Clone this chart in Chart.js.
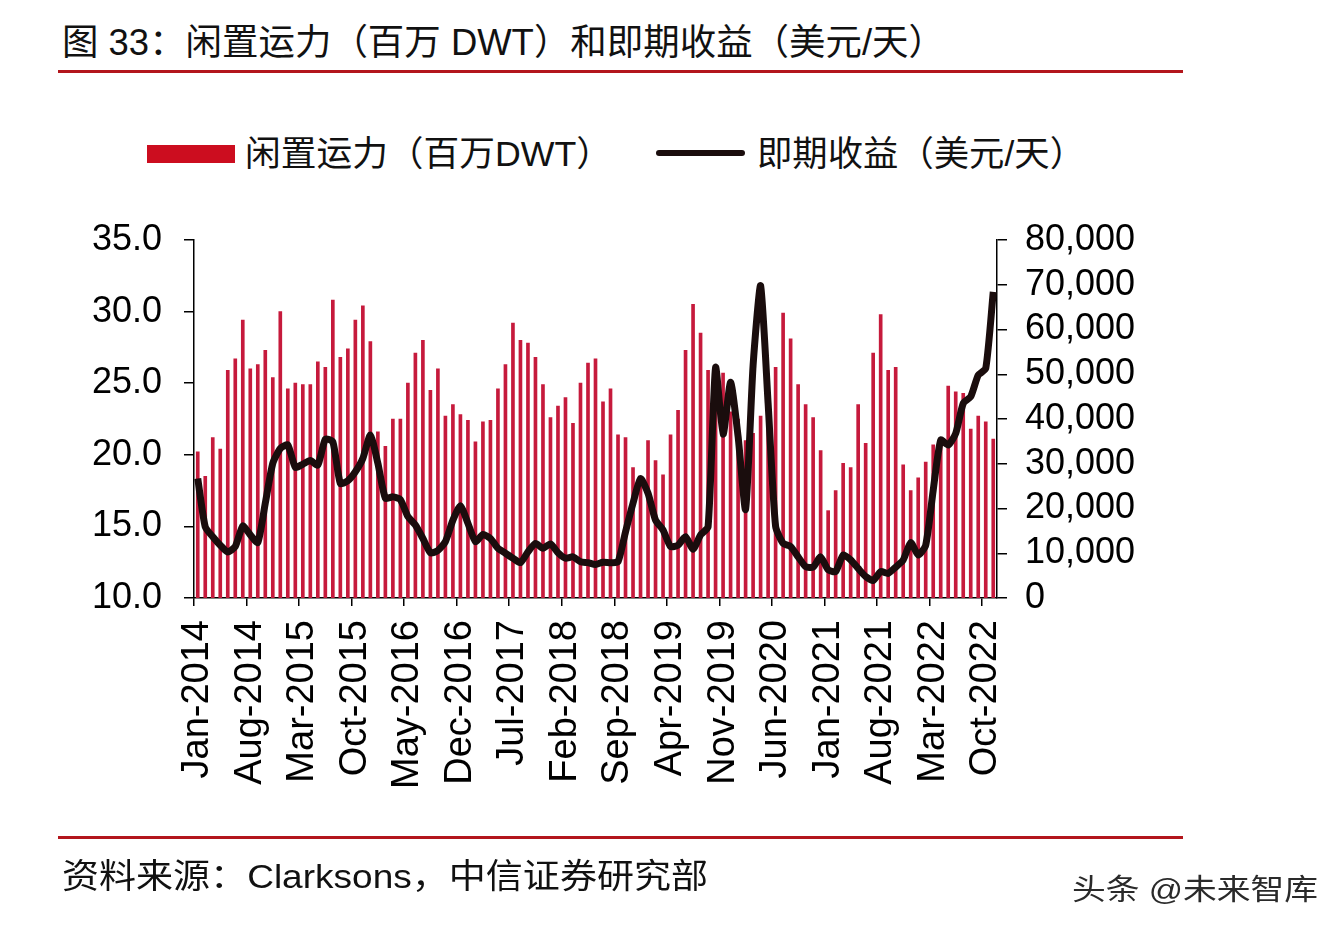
<!DOCTYPE html>
<html>
<head>
<meta charset="utf-8">
<script src="https://cdn.jsdelivr.net/npm/chart.js@4/dist/chart.umd.min.js"></script>
<style>
  html, body { margin: 0; padding: 0; background: #fff; }
  body { width: 1344px; height: 936px; position: relative; overflow: hidden;
         font-family: 'Liberation Sans', 'Noto Sans CJK SC', sans-serif; color: #111; }
  .txt { position: absolute; white-space: nowrap; line-height: 1; transform-origin: left center; }
  .rule { position: absolute; left: 58px; width: 1125px; height: 3px; background: #b3161c; }
  #wrap { position: absolute; left: 0; top: 0; width: 1344px; height: 936px; }
</style>
</head>
<body>
<div class="txt" data-fit="883" style="left:62px; top:25px; font-size:36px;">图 33：闲置运力（百万 DWT）和即期收益（美元/天）</div>
<div class="rule" style="top:70px;"></div>

<div style="position:absolute; left:147px; top:145px; width:88px; height:18px; background:#cc0d1f;"></div>
<div class="txt" data-fit="367" style="left:245px; top:136px; font-size:35px;">闲置运力（百万DWT）</div>
<div style="position:absolute; left:656px; top:150px; width:89px; height:6px; background:#1a0d0d; border-radius:3px;"></div>
<div class="txt" data-fit="328" style="left:757px; top:136px; font-size:35px;">即期收益（美元/天）</div>

<div id="wrap"><canvas id="chart" width="1344" height="936"></canvas></div>

<div class="rule" style="top:836px;"></div>
<div class="txt" data-fit="646" style="left:62px; top:859px; font-size:34px;">资料来源：Clarksons，中信证券研究部</div>
<div class="txt" data-fit="246" style="left:1072px; top:876px; font-size:29px; color:#2a2a2a;">头条 @未来智库</div>

<script>
// --- data ---
const MONTHS = ["Jan","Feb","Mar","Apr","May","Jun","Jul","Aug","Sep","Oct","Nov","Dec"];
const START_YEAR = 2014;
const N_MONTHS = 107; // Jan-2014 .. Nov-2022
const LABEL_EVERY = 7;

// idle capacity, million DWT (left axis)
const idleDwt = [
  20.2, 18.5, 21.2, 20.4, 25.9, 26.7, 29.4, 26.0, 26.3, 27.3, 25.4, 30.0,
  24.6, 25.0, 24.9, 24.9, 26.5, 26.1, 30.8, 26.8, 27.4, 29.4, 30.4, 27.9,
  21.6, 20.6, 22.5, 22.5, 25.0, 27.1, 28.0, 24.5, 26.0, 22.7, 23.5, 22.8,
  22.4, 20.9, 22.3, 22.4, 24.6, 26.3, 29.2, 28.0, 27.8, 26.8, 24.9, 22.6,
  23.4, 24.0, 22.2, 25.0, 26.4, 26.7, 23.7, 24.6, 21.4, 21.2, 19.1, 18.2,
  21.0, 19.6, 18.6, 21.4, 23.1, 27.3, 30.5, 28.5, 25.9, 25.8, 25.7, 23.0,
  22.5, 21.0, 21.5, 22.7, 23.5, 26.1, 29.9, 28.1, 24.9, 23.5, 22.6, 20.3,
  16.1, 17.5, 19.4, 19.1, 23.5, 20.8, 27.1, 29.8, 25.9, 26.1, 19.3, 17.5,
  18.4, 19.5, 20.7, 21.0, 24.8, 24.4, 24.3, 21.8, 22.7, 22.3, 21.1
];

// spot earnings, USD/day (right axis)
const spotEarnings = [
  26700, 15900, 13700, 11800, 10300, 11500, 16100, 14100, 12400, 21200, 30100, 33400,
  34200, 29200, 29900, 30700, 29700, 35500, 34900, 25600, 26200, 28200, 31200, 36400,
  30100, 22300, 22600, 22000, 18200, 16300, 13300, 10100, 10600, 12600, 17400, 20600,
  16700, 12600, 14200, 13300, 11100, 10000,  8900,  7900, 10300, 12200, 11100, 12100,
  10100,  8900,  9200,  8100,  7900,  7500,  8000,  7900,  8100, 14800, 21200, 26700,
  23400, 17400, 15200, 11500, 11800, 13700, 10900, 14100, 15900, 51500, 36600, 48200,
  36100, 19800, 52000, 69800, 43500, 16000, 12200, 11500,  9200,  7000,  6900,  9200,
   6300,  5900,  9600,  8500,  6600,  4800,  3900,  5900,  5500,  6900,  8500, 12400,
   9600, 11800, 24100, 35300, 34200, 36800, 43500, 45000, 49800, 51300, 68400
];

const LEFT_MIN = 10, LEFT_MAX = 35, LEFT_STEP = 5;
const RIGHT_MIN = 0, RIGHT_MAX = 80000, RIGHT_STEP = 10000;

const monthLabels = [];
for (let i = 0; i < N_MONTHS; i++) {
  monthLabels.push(MONTHS[i % 12] + "-" + (START_YEAR + Math.floor(i / 12)));
}

// --- fit text widths ---
function fitTexts() {
  document.querySelectorAll("[data-fit]").forEach((el) => {
    const target = Number(el.dataset.fit);
    const w = el.getBoundingClientRect().width;
    if (w > 0) el.style.transform = "scaleX(" + (target / w).toFixed(4) + ")";
  });
}

// --- chart ---
const FAMILY = "'Liberation Sans', Arial, sans-serif";
const Y_FONT = { family: FAMILY, size: 36 };
const X_FONT = { family: FAMILY, size: 38 };

function initChart() {
  const ctx = document.getElementById("chart");
  new Chart(ctx, {
    data: {
      labels: monthLabels,
      datasets: [
        {
          type: "line",
          label: "即期收益（美元/天）",
          data: spotEarnings,
          yAxisID: "yRight",
          borderColor: "#1a0d0d",
          borderWidth: 7,
          pointRadius: 0,
          tension: 0.2,
          order: 0,
        },
        {
          type: "bar",
          label: "闲置运力（百万DWT）",
          data: idleDwt,
          yAxisID: "yLeft",
          backgroundColor: "#c61a3c",
          barThickness: 3,
          order: 1,
        },
      ],
    },
    options: {
      responsive: false,
      animation: false,
      devicePixelRatio: 1,
      layout: { padding: { left: 0, top: 240, right: 187, bottom: 138 } },
      plugins: { legend: { display: false }, tooltip: { enabled: false } },
      scales: {
        x: {
          type: "category",
          offset: true,
          grid: {
            offset: true,
            drawOnChartArea: false,
            drawTicks: true,
            tickLength: 8,
            lineWidth: 1.5,
            color: (c) => (c.index % LABEL_EVERY === 0 ? "#000" : "rgba(0,0,0,0)"),
          },
          border: { display: true, color: "#000", width: 1.5 },
          ticks: {
            autoSkip: false,
            maxRotation: 90,
            minRotation: 90,
            padding: 14,
            color: "#000",
            font: X_FONT,
            callback: (v, i) => (i % LABEL_EVERY === 0 ? monthLabels[i] : ""),
          },
          afterFit: (s) => { s.height = 200; },
        },
        yLeft: {
          position: "left",
          min: LEFT_MIN,
          max: LEFT_MAX,
          grid: { drawOnChartArea: false, tickLength: 10, color: "#000", lineWidth: 1.5 },
          border: { display: true, color: "#000", width: 1.5 },
          ticks: {
            stepSize: LEFT_STEP,
            autoSkip: false,
            padding: 22,
            color: "#000",
            font: Y_FONT,
            callback: (v) => Number(v).toFixed(1),
          },
          afterFit: (s) => { s.width = 194; },
        },
        yRight: {
          position: "right",
          min: RIGHT_MIN,
          max: RIGHT_MAX,
          grid: { drawOnChartArea: false, tickLength: 10, color: "#000", lineWidth: 1.5 },
          border: { display: true, color: "#000", width: 1.5 },
          ticks: {
            stepSize: RIGHT_STEP,
            autoSkip: false,
            padding: 18,
            color: "#000",
            font: Y_FONT,
            callback: (v) => Number(v).toLocaleString("en-US"),
          },
          afterFit: (s) => { s.width = 160; },
        },
      },
    },
  });
}

// --- boot ---
fitTexts();
initChart();
</script>
</body>
</html>
